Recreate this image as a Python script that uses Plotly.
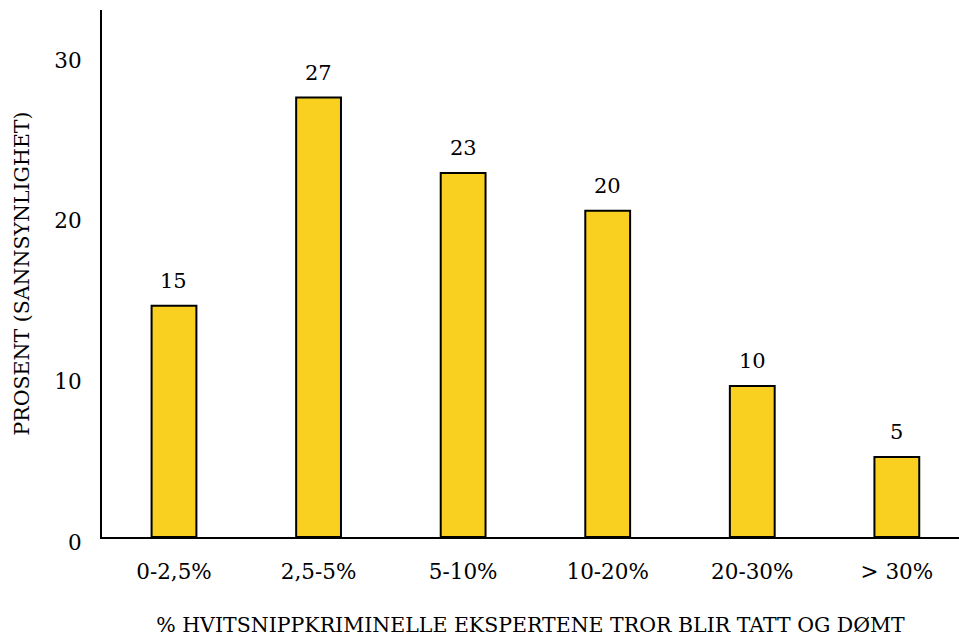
import plotly.graph_objects as go

categories = ["0-2,5%", "2,5-5%", "5-10%", "10-20%", "20-30%", "> 30%"]
values = [14.4, 27.35, 22.65, 20.3, 9.4, 4.98]
labels = ["15", "27", "23", "20", "10", "5"]
y_ticks = [0, 10, 20, 30]

FONT = "DejaVu Serif"
YELLOW = "#F9D020"

fig = go.Figure()
fig.add_trace(go.Bar(
    x=categories, y=values,
    marker=dict(color=YELLOW, line=dict(color="black", width=2)),
    width=0.31,
    hoverinfo="skip",
))
for c, v, t in zip(categories, values, labels):
    fig.add_annotation(x=c, y=v, text=t, showarrow=False, yanchor="middle",
                       yshift=25, font=dict(family=FONT, size=21, color="black"))

fig.update_layout(
    width=959, height=637,
    margin=dict(l=102, r=0, t=10, b=100),
    paper_bgcolor="white", plot_bgcolor="white",
    showlegend=False,
    font=dict(family=FONT, color="black"),
)
fig.update_xaxes(
    type="category", range=[-0.498, 5.43],
    showline=True, linecolor="black", linewidth=2,
    showgrid=False, ticks="", tickfont=dict(size=21.5),
    ticklabelstandoff=14,
    title=dict(text="% HVITSNIPPKRIMINELLE EKSPERTENE TROR BLIR TATT OG DØMT",
               font=dict(size=20.5), standoff=39),
)
fig.update_yaxes(
    range=[0, 32.8], tickvals=y_ticks,
    showline=True, linecolor="black", linewidth=2,
    showgrid=False, zeroline=False, ticks="", tickfont=dict(size=21.5),
    ticklabelstandoff=14, ticklabelshift=5,
    title=dict(text="PROSENT (SANNSYNLIGHET)", font=dict(size=20.5), standoff=19),
)
fig.write_html("out.html")
